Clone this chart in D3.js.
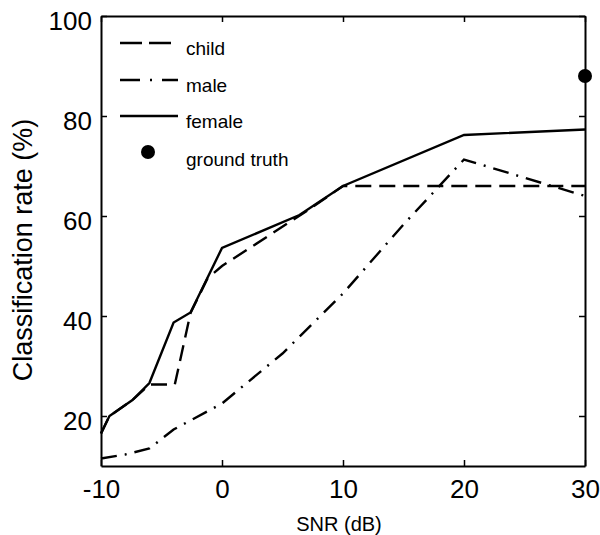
<!DOCTYPE html>
<html lang="en">
<head>
    <meta charset="UTF-8">
    <title>Classification rate vs SNR</title>
    <style>
        body { margin: 0; background: #fff; }
        svg text { font-family: 'Liberation Sans', Arial, Helvetica, sans-serif; fill: #000; }
        .axis path, .axis line { stroke: #000; }
    </style>
</head>
<body>
    <div id='chart'></div>

    <script src='https://cdnjs.cloudflare.com/ajax/libs/d3/7.8.5/d3.min.js'></script>
    <script type='text/javascript'>
        // values
        const xTicks = [-10, 0, 10, 20, 30];
        const yTicks = [20, 40, 60, 80, 100];

        const childSnr  = [-10, -9.3, -7.4, -6, -3.9, -2.6, -1.2, 0, 7, 10, 20, 30];
        const childRate = [16.5, 20, 23.2, 26.3, 26.3, 40.6, 47.5, 50, 61, 66, 66, 66];

        const maleSnr  = [-10, -8, -6, -4, 0, 5, 10, 15, 20, 30];
        const maleRate = [11.5, 12.3, 13.5, 17.3, 22.5, 32.5, 44.5, 58.3, 71.3, 64];

        const femaleSnr  = [-10, -9.3, -7.4, -6, -4, -2.6, 0, 6.4, 10, 20, 30];
        const femaleRate = [16.5, 20, 23.2, 26.6, 38.7, 40.7, 53.6, 60.2, 66, 76.2, 77.3];

        const truthSnr  = [30];
        const truthRate = [88];

        const width = 600, height = 535;
        const plotLeft = 101, plotRight = 585, plotTop = 16, plotBottom = 466;

        const svg = d3.select('#chart')
                      .append('svg')
                        .attr('width', width)
                        .attr('height', height);

        const x = d3.scaleLinear().domain([-10, 30]).range([plotLeft, plotRight]);
        const y = d3.scaleLinear().domain([10, 100]).range([plotBottom, plotTop]);

        // plain hyphen for negatives, like the original
        const fmt = d => String(d);

        // axes box with inward ticks on all four sides
        const tick = 6;
        svg.append('g').attr('class', 'axis')
            .attr('transform', `translate(0, ${plotBottom})`)
            .call(d3.axisBottom(x).tickValues(xTicks).tickFormat(fmt).tickSizeInner(-tick).tickSizeOuter(0).tickPadding(14))
            .call(g => g.selectAll('text').style('font-size', '26px').attr('dy', '0.71em'));
        svg.append('g').attr('class', 'axis')
            .attr('transform', `translate(0, ${plotTop})`)
            .call(d3.axisTop(x).tickValues(xTicks).tickSizeInner(-tick).tickSizeOuter(0).tickFormat(''));
        svg.append('g').attr('class', 'axis')
            .attr('transform', `translate(${plotLeft}, 0)`)
            .call(d3.axisLeft(y).tickValues(yTicks).tickFormat(fmt).tickSizeInner(-tick).tickSizeOuter(0).tickPadding(9))
            .call(g => g.selectAll('text').style('font-size', '26px').attr('dy', '0.5em'));
        svg.append('g').attr('class', 'axis')
            .attr('transform', `translate(${plotRight}, 0)`)
            .call(d3.axisRight(y).tickValues(yTicks).tickSizeInner(-tick).tickSizeOuter(0).tickFormat(''));

        svg.selectAll('.axis path').attr('stroke-width', 2);
        svg.selectAll('.axis line').attr('stroke-width', 1.5);

        // axis titles
        svg.append('text')
            .attr('x', 339)
            .attr('y', 531)
            .attr('text-anchor', 'middle')
            .style('font-size', '20px')
            .text('SNR (dB)');

        svg.append('text')
            .attr('transform', `translate(32, 250) rotate(-90)`)
            .attr('text-anchor', 'middle')
            .style('font-size', '27px')
            .text('Classification rate (%)');

        // series
        const series = [
            { name: 'child',  xs: childSnr,  ys: childRate,  dash: '16,8' },
            { name: 'male',   xs: maleSnr,   ys: maleRate,   dash: '16,8,2,8' },
            { name: 'female', xs: femaleSnr, ys: femaleRate, dash: null }
        ];

        const line = d3.line().x(d => x(d[0])).y(d => y(d[1]));

        svg.append('g').selectAll('path.series')
            .data(series)
            .enter()
          .append('path')
            .attr('class', 'series')
            .attr('d', s => line(s.xs.map((v, i) => [v, s.ys[i]])))
            .attr('fill', 'none')
            .attr('stroke', '#000')
            .attr('stroke-width', 2.4)
            .attr('stroke-dasharray', s => s.dash);

        svg.append('g').selectAll('circle')
            .data(truthSnr.map((v, i) => [v, truthRate[i]]))
            .enter()
          .append('circle')
            .attr('cx', d => x(d[0]))
            .attr('cy', d => y(d[1]))
            .attr('r', 7)
            .attr('fill', '#000');

        // legend, no box
        const legendY = [43, 80, 116, 152];
        const legend = svg.append('g');
        series.forEach((s, i) => {
            legend.append('line')
                .attr('x1', 120).attr('x2', 178)
                .attr('y1', legendY[i]).attr('y2', legendY[i])
                .attr('stroke', '#000')
                .attr('stroke-width', 2.4)
                .attr('stroke-dasharray', s.name === 'male' ? '20,10,2,10' : (s.name === 'child' ? '22,7' : null));
            legend.append('text')
                .attr('x', 186)
                .attr('y', legendY[i] + 12)
                .style('font-size', '19px')
                .text(s.name);
        });
        legend.append('circle')
            .attr('cx', 148).attr('cy', legendY[3])
            .attr('r', 7)
            .attr('fill', '#000');
        legend.append('text')
            .attr('x', 186)
            .attr('y', legendY[3] + 14)
            .style('font-size', '19px')
            .text('ground truth');
    </script>
</body>
</html>
